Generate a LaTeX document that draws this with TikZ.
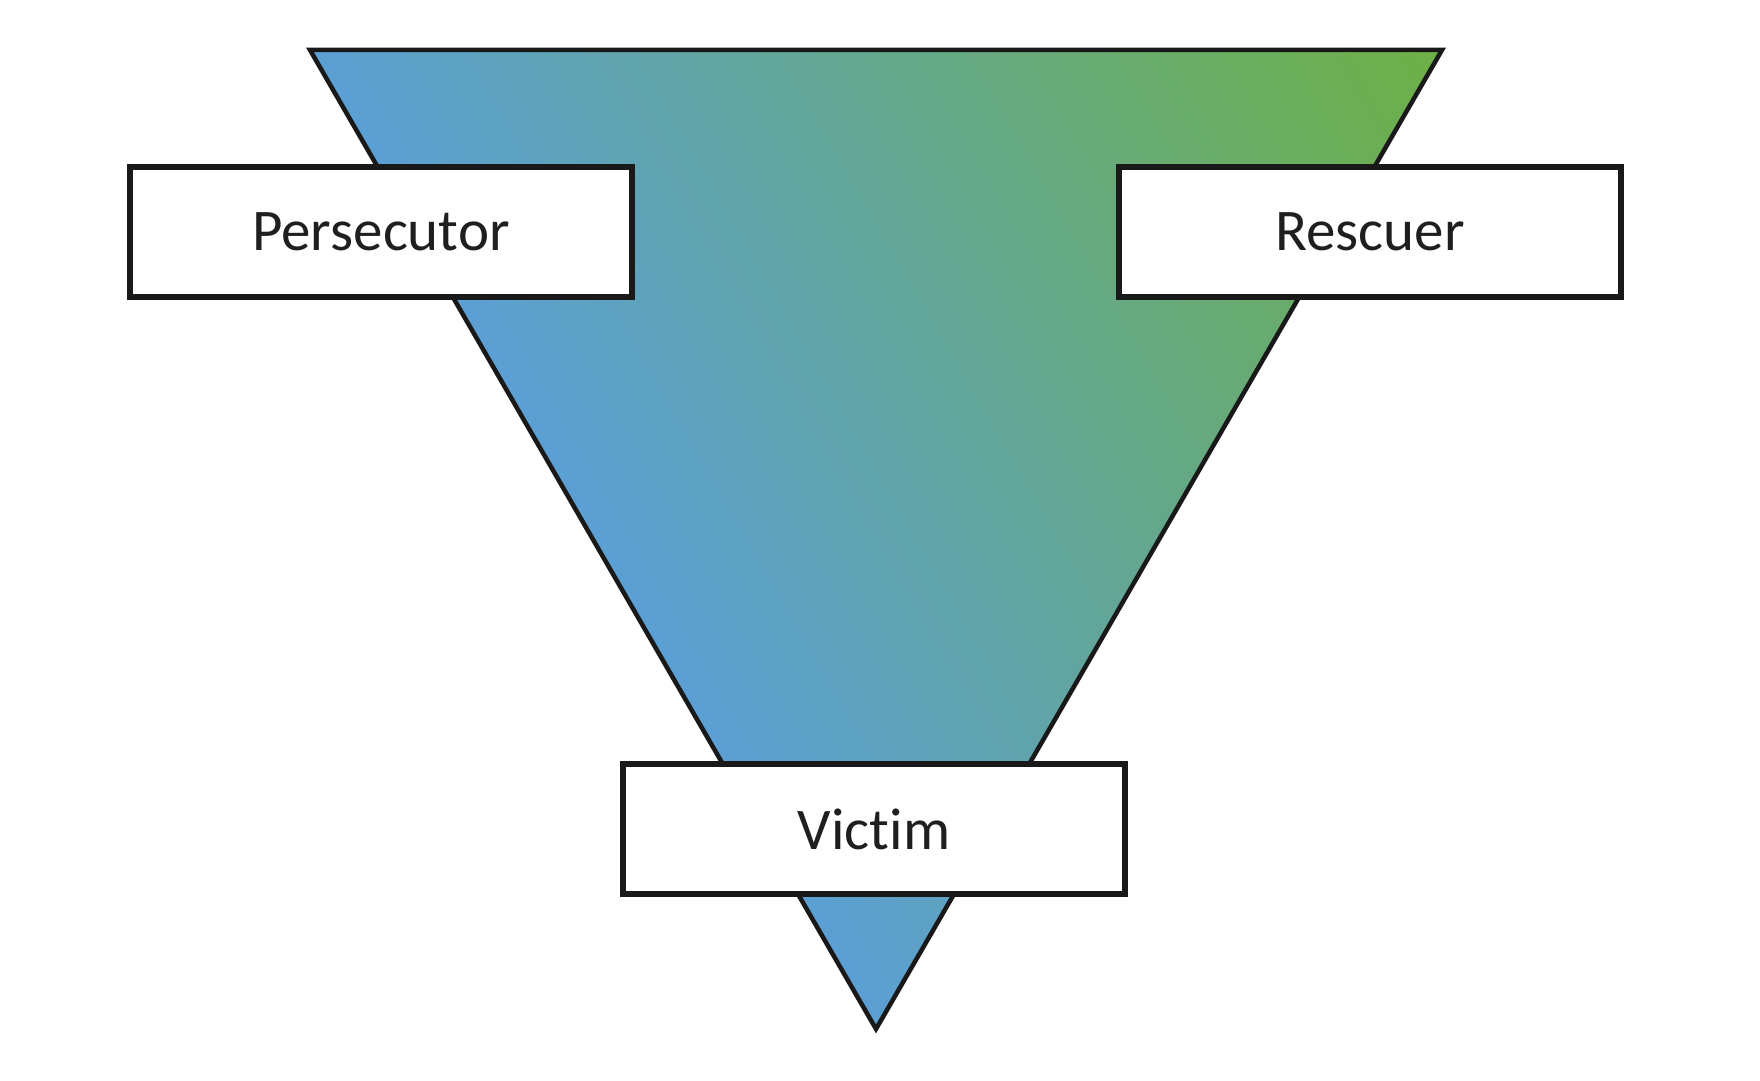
\documentclass[tikz,border=0pt]{standalone}
\usepackage{fontspec}
\setmainfont{Carlito}[Ligatures={NoCommon}]
\definecolor{triblue}{RGB}{91,159,212}
\definecolor{trigreen}{RGB}{109,176,69}
\definecolor{edge}{RGB}{25,25,25}
\tikzset{
  rolebox/.style={draw=edge, fill=white, line width=6pt, minimum width=502pt,
    minimum height=130pt, inner sep=0pt, font=\fontsize{59}{63}\selectfont, text=black!88},
  triedge/.style={draw=edge, line width=4.5pt, line join=miter}
}
\begin{document}
\begin{tikzpicture}[x=1pt,y=1pt]
\useasboundingbox[fill=white] (0,0) rectangle (1760,1080);
\coordinate (tl) at (310,1030);
\coordinate (tr) at (1442,1030);
\coordinate (ap) at (876,51);
\begin{scope}
  \clip (tl) -- (tr) -- (ap) -- cycle;
  \fill[triblue] (tl) -- (tr) -- (ap) -- cycle;
  \begin{scope}[transform canvas={shift={(310,1030)},rotate=30}]
    \shade[left color=triblue, right color=trigreen] (0,-1300) rectangle (980,100);
  \end{scope}
  \fill[trigreen] (1430,1040) -- (1460,1040) -- (1460,1000) -- cycle;
\end{scope}
\draw[triedge] (tl) -- (tr) -- (ap) -- cycle;
\node[rolebox] (pers) at (381,848) {Persecutor};
\node[rolebox] (resc) at (1370,848) {Rescuer};
\node[rolebox] (vict) at (874,251) {Victim};
\end{tikzpicture}
\end{document}
